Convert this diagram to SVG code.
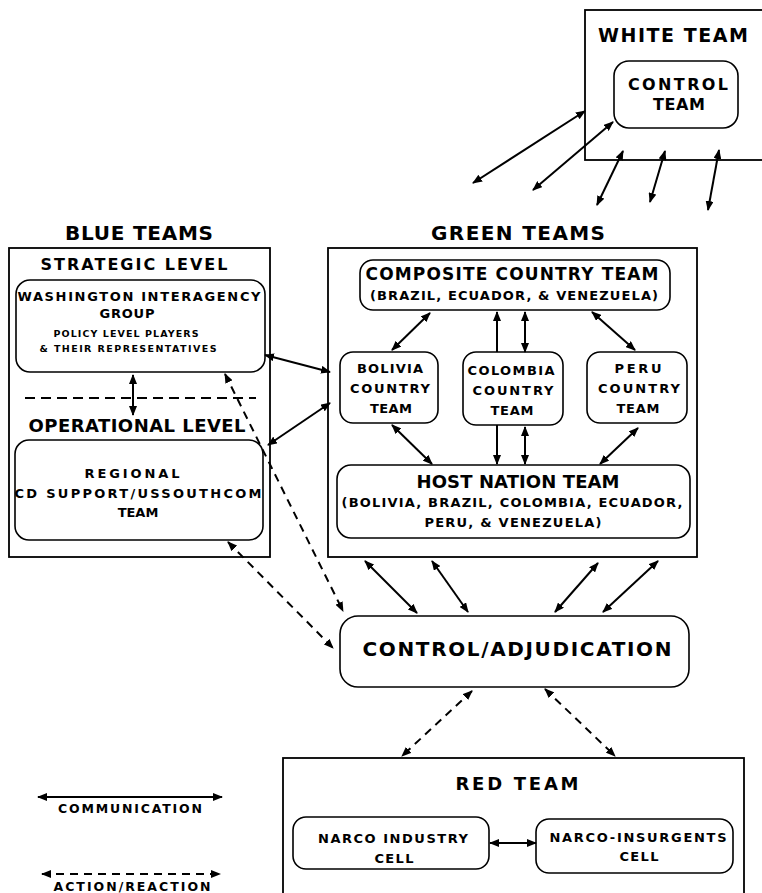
<svg xmlns="http://www.w3.org/2000/svg" width="762" height="893" viewBox="0 0 762 893">
<defs>
<marker id="ah" viewBox="0 0 10 8" refX="9" refY="4" markerWidth="10" markerHeight="8" markerUnits="userSpaceOnUse" orient="auto-start-reverse">
<path d="M0,0 L10,4 L0,8 z" fill="#000"/>
</marker>
<style>
text{font-family:"DejaVu Sans","Liberation Sans",Arial,sans-serif;font-weight:bold;fill:#000;text-anchor:middle}
.s{font-size:13px}
.frame{fill:#fff;stroke:#000;stroke-width:1.8}
.node{fill:#fff;stroke:#000;stroke-width:1.6}
.c{fill:none;stroke:#000;stroke-width:2;marker-start:url(#ah);marker-end:url(#ah)}
.c1{fill:none;stroke:#000;stroke-width:2;marker-end:url(#ah)}
.d{fill:none;stroke:#000;stroke-width:2;stroke-dasharray:8 6;marker-start:url(#ah);marker-end:url(#ah)}
.sep{fill:none;stroke:#000;stroke-width:2;stroke-dasharray:10 6}
</style>
</defs>
<rect width="762" height="893" fill="#fff"/>

<g id="white-team">
<rect class="frame" x="585" y="10" width="190" height="150"/>
<text x="673" y="42" font-size="19" textLength="150" lengthAdjust="spacing">WHITE TEAM</text>
<g id="control-team">
<rect class="node" x="614" y="61" width="124" height="67" rx="15"/>
<text x="678" y="90" font-size="16" textLength="100" lengthAdjust="spacing">CONTROL</text>
<text x="679" y="110" font-size="16" textLength="52" lengthAdjust="spacing">TEAM</text>
</g>
</g>

<g id="blue-teams">
<text x="139" y="240" font-size="20" textLength="148" lengthAdjust="spacing">BLUE TEAMS</text>
<rect class="frame" x="9" y="248" width="261" height="309"/>
<text x="134" y="270" font-size="16" textLength="187" lengthAdjust="spacing">STRATEGIC LEVEL</text>
<line class="sep" x1="25" y1="398" x2="256" y2="398"/>
<text x="137" y="432" font-size="18" textLength="217" lengthAdjust="spacing">OPERATIONAL LEVEL</text>
</g>

<g id="washington">
<rect class="node" x="16" y="280" width="249" height="92" rx="14"/>
<text class="s" x="139" y="301" textLength="243" lengthAdjust="spacing">WASHINGTON INTERAGENCY</text>
<text class="s" x="127" y="318" textLength="55" lengthAdjust="spacing">GROUP</text>
<text x="126" y="337" font-size="9.5" textLength="145" lengthAdjust="spacing">POLICY LEVEL PLAYERS</text>
<text x="128" y="352" font-size="9.5" textLength="177" lengthAdjust="spacing">&amp; THEIR REPRESENTATIVES</text>
</g>

<g id="regional">
<rect class="node" x="15" y="440" width="248" height="100" rx="14"/>
<text class="s" x="132" y="478" textLength="95" lengthAdjust="spacing">REGIONAL</text>
<text class="s" x="138" y="498" textLength="247" lengthAdjust="spacing">CD SUPPORT/USSOUTHCOM</text>
<text class="s" x="138" y="517">TEAM</text>
</g>

<g id="green-teams">
<text x="518" y="240" font-size="20" textLength="174" lengthAdjust="spacing">GREEN TEAMS</text>
<rect class="frame" x="328" y="248" width="369" height="309"/>
</g>

<g id="composite">
<rect class="node" x="360" y="260" width="310" height="50" rx="13"/>
<text x="512" y="280" font-size="17" textLength="293" lengthAdjust="spacing">COMPOSITE COUNTRY TEAM</text>
<text class="s" x="514" y="300" textLength="288" lengthAdjust="spacing">(BRAZIL, ECUADOR, &amp; VENEZUELA)</text>
</g>

<g id="bolivia">
<rect class="node" x="340" y="352" width="98" height="71" rx="13"/>
<text class="s" x="390" y="373" textLength="66" lengthAdjust="spacing">BOLIVIA</text>
<text class="s" x="390" y="393" textLength="80" lengthAdjust="spacing">COUNTRY</text>
<text class="s" x="391" y="413" textLength="42" lengthAdjust="spacing">TEAM</text>
</g>

<g id="colombia">
<rect class="node" x="463" y="352" width="100" height="73" rx="13"/>
<text class="s" x="511" y="375" textLength="87" lengthAdjust="spacing">COLOMBIA</text>
<text class="s" x="513" y="395" textLength="81" lengthAdjust="spacing">COUNTRY</text>
<text class="s" x="512" y="415" textLength="43" lengthAdjust="spacing">TEAM</text>
</g>

<g id="peru">
<rect class="node" x="587" y="352" width="100" height="71" rx="13"/>
<text class="s" x="638" y="373" textLength="47" lengthAdjust="spacing">PERU</text>
<text class="s" x="639" y="393" textLength="82" lengthAdjust="spacing">COUNTRY</text>
<text class="s" x="638" y="413" textLength="43" lengthAdjust="spacing">TEAM</text>
</g>

<g id="host-nation">
<rect class="node" x="337" y="465" width="353" height="73" rx="14"/>
<text x="518" y="488" font-size="18" textLength="203" lengthAdjust="spacing">HOST NATION TEAM</text>
<text class="s" x="512" y="507" textLength="341" lengthAdjust="spacing">(BOLIVIA, BRAZIL, COLOMBIA, ECUADOR,</text>
<text class="s" x="513" y="527" textLength="177" lengthAdjust="spacing">PERU, &amp; VENEZUELA)</text>
</g>

<g id="control-adjudication">
<rect class="node" x="340" y="616" width="349" height="71" rx="18"/>
<text x="517" y="656" font-size="20" textLength="309" lengthAdjust="spacing">CONTROL/ADJUDICATION</text>
</g>

<g id="red-team">
<rect class="frame" x="283" y="758" width="461" height="150"/>
<text x="517" y="790" font-size="18" textLength="123" lengthAdjust="spacing">RED TEAM</text>
</g>

<g id="narco-industry">
<rect class="node" x="293" y="817" width="196" height="52" rx="13"/>
<text class="s" x="393" y="843" textLength="150" lengthAdjust="spacing">NARCO INDUSTRY</text>
<text class="s" x="394" y="863" textLength="39" lengthAdjust="spacing">CELL</text>
</g>

<g id="narco-insurgents">
<rect class="node" x="536" y="819" width="197" height="54" rx="13"/>
<text class="s" x="638" y="842" textLength="177" lengthAdjust="spacing">NARCO-INSURGENTS</text>
<text class="s" x="639" y="861" textLength="39" lengthAdjust="spacing">CELL</text>
</g>

<g id="connectors">
<line class="c" x1="473" y1="183" x2="585" y2="111"/>
<line class="c" x1="533" y1="190" x2="613" y2="122"/>
<line class="c" x1="597" y1="205" x2="623" y2="151"/>
<line class="c" x1="650" y1="202" x2="665" y2="151"/>
<line class="c" x1="708" y1="210" x2="719" y2="150"/>
<line class="c" x1="133" y1="375" x2="133" y2="415"/>
<line class="c" x1="265" y1="355" x2="330" y2="372"/>
<line class="c" x1="268" y1="445" x2="330" y2="403"/>
<line class="d" x1="225" y1="374" x2="343" y2="611"/>
<line class="d" x1="228" y1="542" x2="333" y2="648"/>
<line class="c" x1="392" y1="350" x2="430" y2="313"/>
<line class="c1" x1="497" y1="352" x2="497" y2="312"/>
<line class="c" x1="525" y1="352" x2="525" y2="312"/>
<line class="c" x1="592" y1="312" x2="635" y2="350"/>
<line class="c" x1="392" y1="425" x2="432" y2="464"/>
<line class="c1" x1="497" y1="425" x2="497" y2="464"/>
<line class="c" x1="525" y1="427" x2="525" y2="464"/>
<line class="c" x1="638" y1="428" x2="600" y2="464"/>
<line class="c" x1="365" y1="561" x2="417" y2="613"/>
<line class="c" x1="432" y1="561" x2="468" y2="612"/>
<line class="c" x1="598" y1="563" x2="555" y2="612"/>
<line class="c" x1="658" y1="561" x2="603" y2="612"/>
<line class="d" x1="472" y1="691" x2="402" y2="756"/>
<line class="d" x1="545" y1="689" x2="615" y2="756"/>
<line class="c" x1="490" y1="843" x2="536" y2="843"/>
</g>

<g id="legend">
<line class="c" x1="38" y1="797" x2="222" y2="797"/>
<text x="130" y="813" font-size="12.5" textLength="144" lengthAdjust="spacing">COMMUNICATION</text>
<line class="d" x1="42" y1="874" x2="220" y2="874"/>
<text x="132" y="891" font-size="12.5" textLength="157" lengthAdjust="spacing">ACTION/REACTION</text>
</g>
</svg>
